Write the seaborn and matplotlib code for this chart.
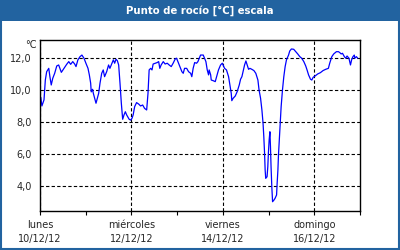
import matplotlib
matplotlib.use("Agg")
import matplotlib.pyplot as plt
import seaborn as sns
import pandas as pd
from matplotlib.patches import Rectangle
from matplotlib.ticker import FixedLocator

# hours since lunes 10/12/12 00:00
hours = [0.4, 1.0, 2.1, 2.8, 3.5, 4.6, 5.2, 5.9, 6.7, 7.7, 8.8, 9.8, 11.2, 12.6, 14.0, 15.1,
         16.1, 17.2, 18.2, 18.9, 19.9, 21.0, 22.0, 23.1, 24.1, 25.2, 25.9, 26.6, 26.9, 27.6,
         28.0, 28.7, 29.4, 30.1, 30.8, 31.5, 32.4, 33.2, 33.9, 35.0, 36.0, 36.7, 37.8, 38.5,
         39.2, 39.9, 40.6, 41.3, 42.0, 42.7, 43.4, 44.1, 44.8, 45.5, 46.2, 46.8, 47.6, 48.3,
         48.9, 49.7, 50.7, 51.8, 52.8, 53.9, 54.9, 56.0, 56.7, 57.3, 58.1, 58.8, 59.4, 60.5,
         61.5, 62.3, 62.9, 63.6, 64.7, 65.7, 66.8, 67.8, 68.9, 69.9, 71.0, 71.7, 72.4, 73.4,
         74.5, 75.2, 75.9, 77.0, 78.0, 79.1, 79.7, 80.4, 81.2, 82.2, 82.9, 83.6, 84.3, 85.7,
         86.4, 87.1, 87.8, 88.5, 88.8, 89.6, 89.9, 90.9, 92.0, 92.7, 93.7, 94.8, 95.7, 96.9,
         97.9, 99.0, 99.7, 100.4, 100.7, 101.4, 102.5, 103.5, 104.6, 105.3, 106.0, 106.6,
         107.4, 108.1, 108.8, 109.5, 110.2, 111.2, 112.3, 113.3, 114.4, 115.0, 115.8, 116.5,
         117.1, 117.5, 117.9, 118.2, 118.5, 119.2, 119.6, 119.9, 120.3, 120.7, 121.0, 121.3,
         121.7, 122.1, 122.8, 123.4, 124.2, 124.5, 124.9, 125.2, 125.9, 126.6, 127.3, 128.0,
         128.7, 129.4, 130.5, 131.1, 132.0, 133.2, 134.3, 135.3, 136.4, 137.4, 138.5, 139.5,
         140.2, 141.0, 142.0, 142.7, 143.4, 144.4, 145.8, 147.2, 148.6, 150.0, 151.4, 152.1,
         153.2, 154.2, 155.6, 156.7, 157.4, 158.1, 158.8, 159.8, 160.5, 161.2, 162.2, 163.0,
         163.6, 164.3, 165.0, 165.3, 166.1, 166.8]
dew_point = [9.56, 9.02, 9.40, 10.64, 11.16, 11.37, 10.85, 10.33, 10.75, 11.06, 11.52, 11.58,
             11.12, 11.37, 11.62, 11.79, 11.62, 11.79, 11.64, 11.48, 11.90, 12.10, 12.20, 12.00,
             11.69, 11.37, 10.96, 10.44, 9.90, 10.06, 9.81, 9.50, 9.19, 9.50, 9.81, 10.44,
             11.06, 11.27, 10.85, 11.16, 11.58, 11.37, 11.69, 11.90, 11.69, 11.94, 11.85, 11.58,
             10.44, 9.19, 8.19, 8.46, 8.66, 8.46, 8.31, 8.19, 8.14, 8.25, 8.46, 8.98, 9.23, 9.14,
             9.02, 9.08, 8.87, 8.77, 9.81, 11.27, 11.37, 11.27, 11.64, 11.69, 11.73, 11.79,
             11.37, 11.58, 11.79, 11.64, 11.69, 11.58, 11.48, 11.69, 11.96, 12.00, 11.79, 11.48,
             11.16, 11.06, 11.37, 11.37, 11.16, 11.06, 10.85, 11.37, 11.73, 11.69, 11.79, 12.00,
             12.20, 12.20, 12.00, 11.79, 11.27, 10.96, 11.27, 10.96, 10.64, 10.60, 10.54, 10.85,
             11.27, 11.58, 11.69, 11.37, 11.27, 10.85, 10.33, 9.81, 9.35, 9.50, 9.64, 9.91,
             10.33, 10.69, 10.85, 11.16, 11.58, 11.83, 11.58, 11.31, 11.37, 11.31, 11.23, 11.06,
             10.64, 10.02, 9.50, 8.77, 7.94, 7.10, 6.06, 5.02, 4.50, 4.60, 5.23, 6.06, 6.89,
             7.41, 6.48, 5.23, 3.98, 3.04, 3.14, 3.25, 3.46, 4.19, 5.02, 5.96, 7.52, 8.98, 10.02,
             10.85, 11.48, 11.90, 12.20, 12.45, 12.58, 12.56, 12.41, 12.27, 12.10, 12.00, 11.79,
             11.52, 11.27, 10.96, 10.69, 10.64, 10.81, 10.89, 11.02, 11.10, 11.23, 11.31, 11.37,
             11.69, 12.10, 12.27, 12.41, 12.41, 12.35, 12.27, 12.31, 12.10, 12.00, 12.14, 12.00,
             11.58, 11.90, 12.10, 12.20, 12.00, 12.10, 12.00]

x_major = [0, 48, 96, 144]
x_minor = [24, 72, 120, 168]
x_labels = ["lunes\n10/12/12", "miércoles\n12/12/12", "viernes\n14/12/12", "domingo\n16/12/12"]
y_ticks = [4, 6, 8, 10, 12]
y_labels = ["4,0", "6,0", "8,0", "10,0", "12,0"]
title = "Punto de rocío [°C] escala"
unit = "°C"

sns.set_style("white")
plt.rcParams['font.family'] = ['DejaVu Sans']

df = pd.DataFrame({"h": hours, "v": dew_point})

fig = plt.figure(figsize=(4, 2.5), dpi=100)
fig.patch.set_facecolor("white")
blue = "#2263a0"
fig.patches.append(Rectangle((0, 1 - 21 / 250), 1, 21 / 250, transform=fig.transFigure,
                             facecolor=blue, edgecolor="none", zorder=0))
fig.patches.append(Rectangle((0.002, 0.003), 0.996, 0.994, transform=fig.transFigure,
                             facecolor="none", edgecolor=blue, linewidth=1.5, zorder=5))
fig.text(0.5, 1 - 10.5 / 250, title, color="white", fontweight="bold", fontsize=7.3,
         ha="center", va="center")

ax = fig.add_axes([40 / 400, 39 / 250, 320 / 400, 171 / 250])
sns.lineplot(data=df, x="h", y="v", ax=ax, color="#0000ff", linewidth=0.9)

ax.set_xlim(0, 168)
ax.set_ylim(2.46, 13.14)
ax.set_xlabel("")
ax.set_ylabel("")

ax.xaxis.set_major_locator(FixedLocator(x_major))
ax.xaxis.set_minor_locator(FixedLocator(x_minor))
ax.set_xticklabels(x_labels, fontsize=7, linespacing=1.5)
ax.set_yticks(y_ticks)
ax.set_yticklabels(y_labels, fontsize=7)

ax.tick_params(axis="x", which="both", direction="out", length=3, width=0.8, color="black",
               bottom=True, pad=3.5)
ax.tick_params(axis="y", which="both", length=0, pad=6)

for s in ax.spines.values():
    s.set_visible(True)
    s.set_color("black")
    s.set_linewidth(1.0)

ax.grid(True, which="major", axis="both", color="black", linestyle=(0, (3, 2)), linewidth=0.8)
ax.set_axisbelow(True)

ax.text(-0.012, 1.0, unit, transform=ax.transAxes, ha="right", va="top", fontsize=7)

fig.savefig("out.png", dpi=100)
